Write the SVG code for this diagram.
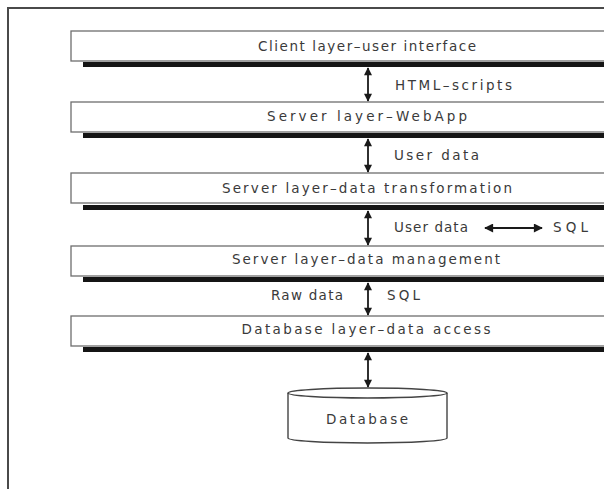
<svg xmlns="http://www.w3.org/2000/svg" width="604" height="489" viewBox="0 0 604 489">
<defs>
<style>
.box{fill:#fff;stroke:#6e6e6e;stroke-width:1.3}
.bar{fill:#151515}
.t{font-family:"DejaVu Sans","Liberation Sans",sans-serif;font-size:13.5px;fill:#3a3a3a}
.c{text-anchor:middle}
.ln{stroke:#1a1a1a;stroke-width:1.8;fill:none}
</style>
<marker id="ah2" viewBox="0 0 10 10" refX="9" refY="5" markerWidth="9" markerHeight="8" orient="auto-start-reverse" markerUnits="userSpaceOnUse">
<path d="M0,0 L10,5 L0,10 z" fill="#1a1a1a"/>
</marker>
<marker id="ah3" viewBox="0 0 10 10" refX="9" refY="5" markerWidth="14" markerHeight="9" orient="auto-start-reverse" markerUnits="userSpaceOnUse">
<path d="M0,0 L10,5 L0,10 z" fill="#1a1a1a"/>
</marker>
</defs>
<rect width="604" height="489" fill="#fff"/>
<path d="M8,489 V8 H604" fill="none" stroke="#4a4a4a" stroke-width="2"/>

<g id="client">
<rect class="box" x="71" y="31" width="545" height="30"/>
<rect class="bar" x="83" y="62" width="530" height="5"/>
<text class="t c" x="367" y="51" textLength="218" lengthAdjust="spacing">Client layer–user interface</text>
</g>
<g id="webapp">
<rect class="box" x="71" y="102" width="545" height="30"/>
<rect class="bar" x="83" y="133" width="530" height="5"/>
<text class="t c" x="367" y="121" textLength="200" lengthAdjust="spacing">Server layer–WebApp</text>
</g>
<g id="transform">
<rect class="box" x="71" y="173" width="545" height="30"/>
<rect class="bar" x="83" y="205" width="530" height="5"/>
<text class="t c" x="367" y="193" textLength="290" lengthAdjust="spacing">Server layer–data transformation</text>
</g>
<g id="management">
<rect class="box" x="71" y="246" width="545" height="30"/>
<rect class="bar" x="83" y="277" width="530" height="5"/>
<text class="t c" x="366" y="264" textLength="268" lengthAdjust="spacing">Server layer–data management</text>
</g>
<g id="access">
<rect class="box" x="71" y="316" width="545" height="30"/>
<rect class="bar" x="83" y="347" width="530" height="5"/>
<text class="t c" x="366" y="334" textLength="249" lengthAdjust="spacing">Database layer–data access</text>
</g>
<g id="database">
<path d="M288,393 V438 A79.5,5 0 0 0 447,438 V393" fill="#fff" stroke="#444" stroke-width="1.4"/>
<ellipse cx="367.5" cy="393" rx="79.5" ry="5" fill="#fff" stroke="#444" stroke-width="1.4"/>
<text class="t c" x="367" y="424" textLength="82" lengthAdjust="spacing">Database</text>
</g>

<g id="connectors">
<line class="ln" x1="368" y1="68" x2="368" y2="101" marker-start="url(#ah2)" marker-end="url(#ah2)"/>
<line class="ln" x1="368" y1="139" x2="368" y2="172" marker-start="url(#ah2)" marker-end="url(#ah2)"/>
<line class="ln" x1="368" y1="211" x2="368" y2="245" marker-start="url(#ah2)" marker-end="url(#ah2)"/>
<line class="ln" x1="368" y1="283" x2="368" y2="315" marker-start="url(#ah2)" marker-end="url(#ah2)"/>
<line class="ln" x1="368" y1="353" x2="368" y2="387" marker-start="url(#ah2)" marker-end="url(#ah2)"/>
<line class="ln" x1="485" y1="228" x2="542" y2="228" stroke-width="1.4" marker-start="url(#ah3)" marker-end="url(#ah3)"/>
</g>

<g id="labels">
<text class="t" x="395" y="90" textLength="117" lengthAdjust="spacing">HTML–scripts</text>
<text class="t" x="394" y="160" textLength="85" lengthAdjust="spacing">User data</text>
<text class="t" x="394" y="232" textLength="74" lengthAdjust="spacing">User data</text>
<text class="t" x="553" y="232" textLength="35" lengthAdjust="spacing">SQL</text>
<text class="t" x="271" y="300" textLength="72" lengthAdjust="spacing">Raw data</text>
<text class="t" x="387" y="300" textLength="33" lengthAdjust="spacing">SQL</text>
</g>
</svg>
